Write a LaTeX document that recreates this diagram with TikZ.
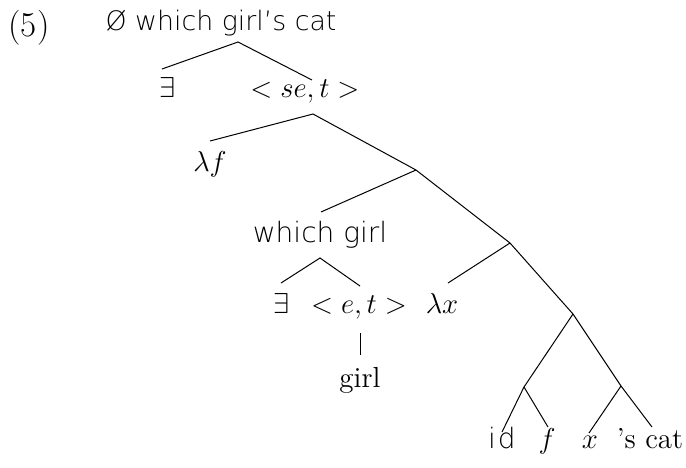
\documentclass[tikz,border=0pt]{standalone}
\usepackage{fontspec}
\newfontfamily\lightsans{DejaVu Sans ExtraLight}
\begin{document}
\begin{tikzpicture}[x=0.5pt,y=-0.5pt,
  edge/.style={draw=black,line width=0.5pt},
  lbl/.style={inner sep=0pt,anchor=base,font=\fontsize{14.5}{17}\selectfont},
  slbl/.style={inner sep=0pt,anchor=base,font=\fontsize{14}{17}\selectfont\lightsans}]
\useasboundingbox (0,0) rectangle (686,467);
% labels
\node[inner sep=0pt,anchor=base,font=\fontsize{17.5}{20}\selectfont] (ex) at (29,36) {(5)};
\node[slbl,font=\fontsize{13.4}{16}\selectfont\lightsans] (top) at (221,30) {Ø which girl’s cat};
\node[lbl] (e1) at (167,97) {$\exists$};
\node[lbl] (set) at (305,97) {$<se,t>$};
\node[lbl] (lf) at (210,171) {$\lambda f$};
\node[slbl] (wg) at (320,242) {which girl};
\node[lbl] (e2) at (281,313) {$\exists$};
\node[lbl] (et) at (359,313) {$<e,t>$};
\node[lbl] (lx) at (442,313) {$\lambda x$};
\node[lbl] (girl) at (360,387) {girl};
\node[slbl] (id) at (502,448) {i\kern1pt d};
\node[lbl] (f) at (547,448) {$f$};
\node[lbl] (x) at (590,448) {$x$};
\node[lbl] (cat) at (650,448) {’s cat};
% branch points
\coordinate (r0) at (238,42);
\coordinate (r0L) at (162,69);
\coordinate (r0R) at (312,80);
\coordinate (n1) at (313,114);
\coordinate (n1L) at (210,141);
\coordinate (n2) at (416,170);
\coordinate (n2L) at (321,212);
\coordinate (n3) at (510,243);
\coordinate (n3L) at (448,283);
\coordinate (n4) at (573,314);
\coordinate (n5) at (524,387);
\coordinate (n6) at (621,386);
\coordinate (idT) at (502,432);
\coordinate (fT) at (548,427);
\coordinate (xT) at (589,433);
\coordinate (catT) at (652,427);
\coordinate (w0) at (320,258);
\coordinate (wL) at (281,283);
\coordinate (wR) at (360,286);
\coordinate (v0) at (360,333);
\coordinate (v1) at (360,355);
% edges
\draw[edge] (r0L) -- (r0) -- (r0R);
\draw[edge] (n1L) -- (n1) -- (n2) -- (n3) -- (n4) -- (n6) -- (catT);
\draw[edge] (n2L) -- (n2);
\draw[edge] (n3L) -- (n3);
\draw[edge] (n4) -- (n5) -- (idT);
\draw[edge] (n5) -- (fT);
\draw[edge] (n6) -- (xT);
\draw[edge] (wL) -- (w0) -- (wR);
\draw[edge] (v0) -- (v1);
\end{tikzpicture}
\end{document}
